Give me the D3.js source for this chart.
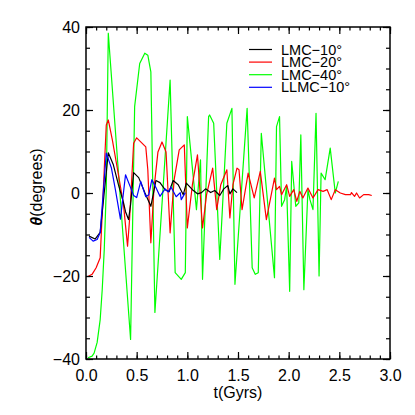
<!DOCTYPE html>
<html><head><meta charset="utf-8">
<script src="https://cdn.jsdelivr.net/npm/d3@7/dist/d3.min.js"></script>
<style>body{margin:0;background:#fff}svg{display:block}text{font-family:"Liberation Sans",Arial,sans-serif}</style>
</head><body><div id="chart"></div>
<script>
const xTicks = [0.0, 0.5, 1.0, 1.5, 2.0, 2.5, 3.0];
const xTickLabels = ["0.0","0.5","1.0","1.5","2.0","2.5","3.0"];
const yTicks = [-40, -20, 0, 20, 40];
const yTickLabels = ["\u221240","\u221220","0","20","40"];
const seriesNames = ["LMC\u221210\u00b0","LMC\u221220\u00b0","LMC\u221240\u00b0","LLMC\u221210\u00b0"];
const seriesColors = ["#000000","#ff0000","#00ff00","#0000ff"];

const tBlack = [0.03,0.09,0.14,0.22,0.27,0.32,0.37,0.39,0.42,0.44,0.47,0.52,0.58,0.64,0.69,0.73,0.78,0.82,0.86,0.91,0.96,0.99,1.05,1.10,1.14,1.18,1.23,1.27,1.32,1.36,1.40,1.42,1.45,1.49];
const vBlack = [-10.4,-11.1,-9.5,9.7,6.8,2.0,-2.3,-4.5,-6.4,-2.8,4.9,3.7,0.1,-3.2,3.0,2.5,0.8,0.3,3.0,2.0,-0.4,2.4,0.8,-0.2,0.1,1.0,0.1,0.6,-0.6,1.0,1.8,-0.2,1.0,0.1];

const tRed = [0.02,0.06,0.10,0.14,0.18,0.20,0.22,0.26,0.32,0.37,0.41,0.43,0.47,0.50,0.54,0.59,0.61,0.64,0.67,0.71,0.75,0.79,0.83,0.87,0.92,0.97,1.00,1.05,1.10,1.15,1.19,1.25,1.29,1.33,1.39,1.42,1.45,1.49,1.51,1.54,1.60,1.66,1.72,1.78,1.86,1.88,1.91,1.93,1.98,2.01,2.05,2.08,2.11,2.14,2.19,2.24,2.29,2.34,2.38,2.42,2.46,2.51,2.56,2.61,2.62,2.65,2.67,2.70,2.74,2.79,2.82];
const vRed = [-20.1,-19.6,-18.0,-15.6,5.6,16.4,17.6,12.8,4.4,-2.8,-12.8,-6.4,12.0,13.3,12.3,11.1,5.6,-12.0,0.8,9.9,12.3,9.9,-9.6,3.2,10.4,11.6,-8.4,2.0,9.2,-8.4,-0.4,6.0,-4.0,2.0,5.6,-6.0,2.0,6.0,5.6,-4.0,4.8,-1.2,5.2,-6.4,3.6,0.8,1.6,-0.4,2.0,-0.8,0.8,-2.0,0.4,-1.2,1.2,-1.2,0.8,0.4,0.8,-1.6,0.8,0.0,-0.4,-0.4,0.1,-0.8,0.0,-1.2,-0.4,-0.4,-0.6];

const tGreen = [0.02,0.06,0.08,0.11,0.14,0.16,0.18,0.20,0.22,0.44,0.48,0.53,0.58,0.61,0.64,0.68,0.83,0.88,0.94,0.98,1.00,1.09,1.13,1.15,1.21,1.22,1.26,1.32,1.39,1.44,1.47,1.59,1.64,1.67,1.70,1.73,1.86,1.88,1.91,1.93,1.96,1.98,2.01,2.03,2.07,2.10,2.12,2.15,2.19,2.21,2.24,2.27,2.30,2.32,2.36,2.41,2.46,2.49];
const vGreen = [-39.7,-39.3,-38.6,-36.0,-30.5,-23.3,-13.7,0.8,38.5,-35.3,20.8,31.2,33.7,33.2,29.2,-28.8,27.2,-19.2,-20.8,-19.2,18.4,-4.0,8.0,-20.8,18.4,18.8,16.8,-16.0,16.8,20.4,-22.0,20.4,-18.0,-19.6,-19.2,14.4,-20.4,16.0,18.4,-3.2,-1.6,1.6,-23.7,7.6,-3.2,-2.4,14.0,-23.3,0.8,-1.6,-4.0,19.2,-20.0,4.8,3.2,10.8,0.0,2.8];

const tBlue = [0.03,0.07,0.11,0.14,0.20,0.25,0.29,0.34,0.39,0.44,0.47,0.50,0.54,0.59,0.62,0.65,0.69,0.73,0.78,0.81,0.84,0.89,0.93,0.94,0.98];
const vBlue = [-10.7,-11.6,-11.2,-9.5,9.6,6.1,0.8,-6.3,4.4,1.3,-0.6,-1.1,2.8,-0.9,-0.4,3.2,1.3,-0.8,1.0,0.3,1.4,-0.9,0.1,-1.6,0.1];

const series = [
  {t:tBlack, v:vBlack},
  {t:tRed, v:vRed},
  {t:tGreen, v:vGreen},
  {t:tBlue, v:vBlue}
];
const drawOrder = [2,1,0,3];

const W=415,H=415, L=86, R=390, T=27, B=359;
const svg = d3.select("#chart").append("svg").attr("width",W).attr("height",H);
const x = d3.scaleLinear().domain([0,3]).range([L,R]);
const y = d3.scaleLinear().domain([-40,40]).range([B,T]);

svg.append("clipPath").attr("id","c").append("rect").attr("x",L).attr("y",T).attr("width",R-L).attr("height",B-T);
const line = d3.line().x(d=>x(d[0])).y(d=>y(d[1]));
const g = svg.append("g").attr("clip-path","url(#c)");
drawOrder.forEach(i=>{
  const s=series[i];
  g.append("path").attr("d",line(s.t.map((t,k)=>[t,s.v[k]])))
   .attr("fill","none").attr("stroke",seriesColors[i]).attr("stroke-width",1.2).attr("stroke-linejoin","round");
});

const xMinor = d3.range(0,31).map(d=>d/10);
const yMinor = d3.range(-40,41,5);
function styleAxis(sel){ sel.select(".domain").remove(); sel.selectAll("line").attr("stroke","#000").attr("stroke-width",1.2); sel.selectAll("text").attr("font-size",16).attr("fill","#000"); }
// bottom
svg.append("g").attr("transform",`translate(0,${B})`).call(d3.axisBottom(x).tickValues(xMinor).tickSize(-3.5).tickFormat("")).call(styleAxis);
svg.append("g").attr("transform",`translate(0,${B})`).call(d3.axisBottom(x).tickValues(xTicks).tickSize(-7).tickPadding(11).tickFormat((d,i)=>xTickLabels[i])).call(styleAxis);
// top
svg.append("g").attr("transform",`translate(0,${T})`).call(d3.axisTop(x).tickValues(xMinor).tickSize(-3.5).tickFormat("")).call(styleAxis);
svg.append("g").attr("transform",`translate(0,${T})`).call(d3.axisTop(x).tickValues(xTicks).tickSize(-7).tickFormat("")).call(styleAxis);
// left
svg.append("g").attr("transform",`translate(${L},0)`).call(d3.axisLeft(y).tickValues(yMinor).tickSize(-4).tickFormat("")).call(styleAxis);
svg.append("g").attr("transform",`translate(${L},0)`).call(d3.axisLeft(y).tickValues(yTicks).tickSize(-7).tickPadding(6).tickFormat((d,i)=>yTickLabels[i])).call(styleAxis);
// right
svg.append("g").attr("transform",`translate(${R},0)`).call(d3.axisRight(y).tickValues(yMinor).tickSize(-4).tickFormat("")).call(styleAxis);
svg.append("g").attr("transform",`translate(${R},0)`).call(d3.axisRight(y).tickValues(yTicks).tickSize(-7).tickFormat("")).call(styleAxis);

svg.append("rect").attr("x",L).attr("y",T).attr("width",R-L).attr("height",B-T).attr("fill","none").attr("stroke","#000").attr("stroke-width",1.5);

// axis titles
svg.append("text").attr("x",(L+R)/2).attr("y",398).attr("text-anchor","middle").attr("font-size",16).text("t(Gyrs)");
const yl = svg.append("text").attr("transform","translate(42,187) rotate(-90)").attr("text-anchor","middle").attr("font-size",16);
yl.append("tspan").attr("font-weight","bold").attr("font-style","italic").text("\u03b8");
yl.append("tspan").text("(degrees)");

// legend
const lg = svg.append("g");
seriesNames.forEach((n,i)=>{
  const yy = 49.5 + i*12.6;
  lg.append("line").attr("x1",249).attr("x2",272).attr("y1",yy).attr("y2",yy).attr("stroke",seriesColors[i]).attr("stroke-width",1.2);
  lg.append("text").attr("x",281).attr("y",yy+5).attr("font-size",14.5).text(n);
});
</script></body></html>
